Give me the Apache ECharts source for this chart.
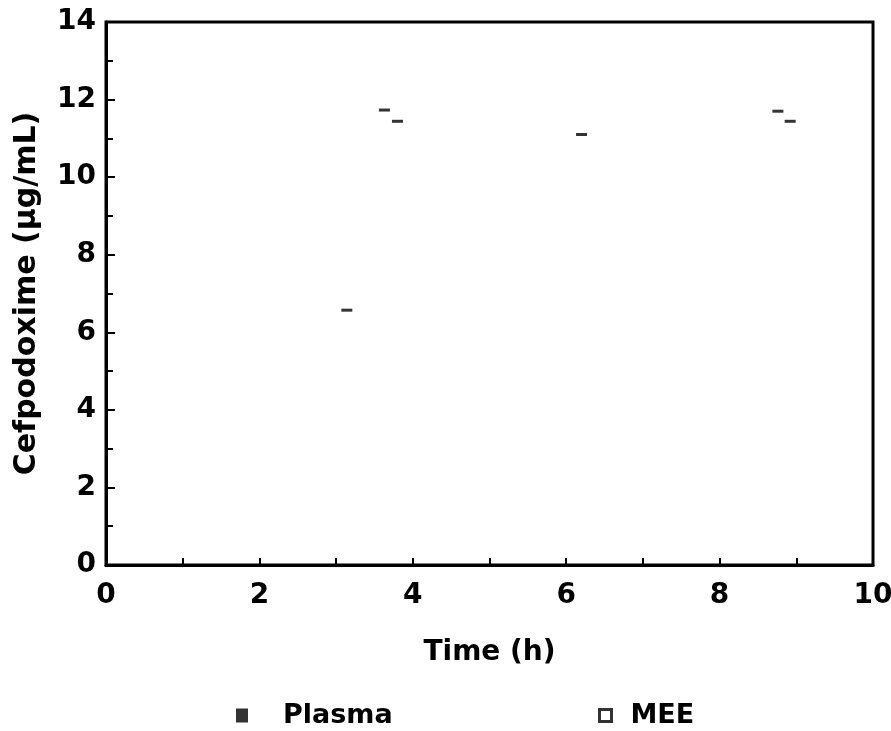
<!DOCTYPE html>
<html>
<head>
<meta charset="utf-8">
<script src="https://cdn.jsdelivr.net/npm/echarts@6/dist/echarts.min.js"></script>
<style>html,body{margin:0;padding:0;background:#fff;}#c{width:891px;height:731px;}</style>
</head>
<body>
<div id="c"></div>
<script>
// Data
const xTicks = [0, 2, 4, 6, 8, 10];
const yTicks = [0, 2, 4, 6, 8, 10, 12, 14];
const plasmaData = [];   // no visible Plasma markers in the reference
const meeData = [];      // no visible MEE markers in the reference
// stray dash marks visible in the scanned figure [time, conc]
const strayX = [3.63, 3.80, 6.20, 8.76, 8.92, 3.14];
const strayY = [11.73, 11.44, 11.10, 11.70, 11.44, 6.57];

const FONT = 'DejaVu Sans';
const chart = echarts.init(document.getElementById('c'));
chart.setOption({
  animation: false,
  backgroundColor: '#fff',
  grid: { left: 106, right: 18, top: 22, bottom: 166, containLabel: false, outerBoundsMode: 'none',
          show: true, borderColor: '#000', borderWidth: 3 },
  xAxis: {
    type: 'value', min: 0, max: 10, interval: 2,
    name: 'Time (h)', nameLocation: 'middle', nameGap: 74,
    nameTextStyle: { fontFamily: FONT, fontWeight: 'bold', fontSize: 28, color: '#000' },
    axisLine: { lineStyle: { color: '#000', width: 3 } },
    axisTick: { inside: true, length: 7, lineStyle: { color: '#000', width: 2 } },
    minorTick: { show: true, splitNumber: 2, length: 7, lineStyle: { color: '#000', width: 2 } },
    splitLine: { show: false },
    axisLabel: { fontFamily: FONT, fontWeight: 'bold', fontSize: 28, color: '#000', margin: 17,
      formatter: v => xTicks.includes(v) ? String(v) : '' }
  },
  yAxis: {
    type: 'value', min: 0, max: 14, interval: 2,
    name: 'Cefpodoxime (µg/mL)', nameLocation: 'middle', nameGap: 64, nameRotate: 90,
    nameTextStyle: { fontFamily: FONT, fontWeight: 'bold', fontSize: 30, color: '#000' },
    axisLine: { lineStyle: { color: '#000', width: 3 } },
    axisTick: { inside: true, length: 9, lineStyle: { color: '#000', width: 2 } },
    minorTick: { show: true, splitNumber: 2, length: 7, lineStyle: { color: '#000', width: 2 } },
    splitLine: { show: false },
    axisLabel: { fontFamily: FONT, fontWeight: 'bold', fontSize: 28, color: '#000', margin: 10,
      formatter: v => yTicks.includes(v) ? String(v) : '' }
  },
  legend: [
    { data: [{ name: 'Plasma', icon: 'rect', itemStyle: { color: '#000' } }], left: 231, top: 697,
      itemWidth: 12, itemHeight: 14,
      textStyle: { fontFamily: FONT, fontWeight: 'bold', fontSize: 27, color: '#000', padding: [0, 0, 0, 30] } },
    { data: [{ name: 'MEE', icon: 'rect', itemStyle: { color: '#fff', borderColor: '#000', borderWidth: 3 } }],
      left: 593, top: 697, itemWidth: 12, itemHeight: 12,
      textStyle: { fontFamily: FONT, fontWeight: 'bold', fontSize: 27, color: '#000', padding: [0, 0, 0, 14] } }
  ],
  series: [
    { name: 'Plasma', type: 'scatter', symbol: 'rect', symbolSize: 12,
      itemStyle: { color: '#000' }, data: plasmaData },
    { name: 'MEE', type: 'scatter', symbol: 'rect', symbolSize: 12,
      itemStyle: { color: '#fff', borderColor: '#000', borderWidth: 3 }, data: meeData },
    { name: 'stray', type: 'scatter', symbol: 'rect', symbolSize: [11, 3], silent: true,
      itemStyle: { color: '#000' },
      data: strayX.map((x, i) => [x, strayY[i]]) }
  ]
});
</script>
</body>
</html>
